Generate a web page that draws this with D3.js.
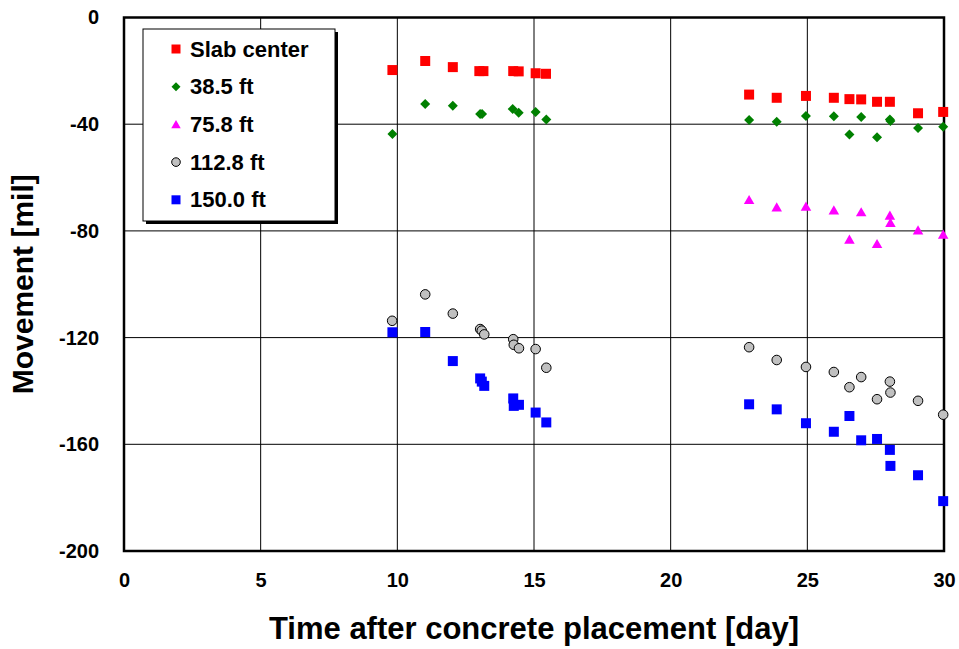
<!DOCTYPE html>
<html>
<head>
<meta charset="utf-8">
<script src="https://cdn.jsdelivr.net/npm/d3@7"></script>
<style>
  body { margin: 0; background: #fff; }
  svg { display: block; font-family: "Liberation Sans", Arial, sans-serif; font-weight: bold; }
</style>
</head>
<body>
<div id="chart"></div>
<script>
const width = 959, height = 649;
const margin = { left: 124, right: 15, top: 17.5, bottom: 98 };

// days for each measurement
const slabX = [9.82, 11.02, 12.03, 13.0, 13.15, 14.24, 14.44, 15.06, 15.44,
  22.87, 23.88, 24.95, 25.97, 26.54, 26.97, 27.55, 28.02, 29.05, 29.97];
const slabY = [-19.7, -16.3, -18.6, -20.1, -20.1, -20.1, -20.2, -20.9, -21.1,
  -28.9, -30.1, -29.4, -30.1, -30.6, -30.7, -31.6, -31.6, -35.9, -35.4];

const ft38X = [9.82, 11.02, 12.03, 13.03, 13.1, 14.22, 14.44, 15.06, 15.45,
  22.87, 23.88, 24.95, 25.97, 26.54, 26.97, 27.55, 28.02, 28.04, 29.05, 29.97];
const ft38Y = [-43.7, -32.4, -33.1, -36.2, -36.2, -34.3, -35.7, -35.4, -38.2,
  -38.4, -39.1, -36.9, -37.0, -43.9, -37.3, -44.9, -38.2, -38.8, -41.4, -41.0];

const ft75X = [22.87, 23.88, 24.95, 25.97, 26.54, 26.97, 27.55, 28.02, 28.04, 29.05, 29.97];
const ft75Y = [-68.4, -71.2, -70.9, -72.3, -83.3, -73.0, -84.9, -74.3, -77.0, -79.8, -81.4];

const ft112X = [9.81, 11.02, 12.03, 13.03, 13.09, 13.18, 14.24, 14.26, 14.45, 15.06, 15.45,
  22.87, 23.88, 24.95, 25.97, 26.54, 26.97, 27.55, 28.02, 28.04, 29.05, 29.97];
const ft112Y = [-113.7, -103.8, -111.0, -116.8, -117.4, -118.8, -120.6, -122.7, -124.0, -124.3, -131.3,
  -123.6, -128.4, -131.0, -132.9, -138.6, -134.8, -143.1, -136.5, -140.6, -143.7, -148.9];

const ft150X = [9.82, 11.02, 12.03, 13.03, 13.09, 13.18, 14.24, 14.26, 14.45, 15.06, 15.45,
  22.87, 23.88, 24.95, 25.97, 26.54, 26.97, 27.55, 28.02, 28.04, 29.05, 29.97];
const ft150Y = [-118.0, -117.9, -128.8, -135.3, -136.5, -138.1, -142.8, -145.6, -145.2, -148.1, -151.8,
  -145.0, -146.9, -152.1, -155.3, -149.4, -158.5, -158.0, -162.1, -168.1, -171.6, -181.3];

const xTicks = [0, 5, 10, 15, 20, 25, 30];
const yTicks = [0, -40, -80, -120, -160, -200];

const series = [
  { name: "Slab center", xs: slabX, ys: slabY, shape: "square", color: "#ff0000" },
  { name: "38.5 ft", xs: ft38X, ys: ft38Y, shape: "diamond", color: "#008000" },
  { name: "75.8 ft", xs: ft75X, ys: ft75Y, shape: "triangle", color: "#ff00ff" },
  { name: "112.8 ft", xs: ft112X, ys: ft112Y, shape: "circle", color: "#c0c0c0" },
  { name: "150.0 ft", xs: ft150X, ys: ft150Y, shape: "square", color: "#0000ff" }
];

const x = d3.scaleLinear().domain([0, 30]).range([margin.left, width - margin.right]);
const y = d3.scaleLinear().domain([-200, 0]).range([height - margin.bottom, margin.top]);

const svg = d3.select("#chart").append("svg")
  .attr("width", width)
  .attr("height", height);

// grid
svg.append("g")
  .selectAll("line")
  .data(xTicks.slice(1, -1))
  .join("line")
  .attr("x1", d => x(d)).attr("x2", d => x(d))
  .attr("y1", y(0)).attr("y2", y(-200))
  .attr("stroke", "#000").attr("stroke-width", 1);

svg.append("g")
  .selectAll("line")
  .data(yTicks.slice(1, -1))
  .join("line")
  .attr("x1", x(0)).attr("x2", x(30))
  .attr("y1", d => y(d)).attr("y2", d => y(d))
  .attr("stroke", "#000").attr("stroke-width", 1);

// axes (labels only, frame drawn separately); plain hyphen for minus like the original
const xAxis = d3.axisBottom(x).tickValues(xTicks).tickSize(0).tickPadding(22).tickFormat(d => String(d));
const yAxis = d3.axisLeft(y).tickValues(yTicks).tickSize(0).tickPadding(25).tickFormat(d => String(d));

svg.append("g")
  .attr("transform", `translate(0,${y(-200)})`)
  .call(xAxis)
  .call(g => g.select(".domain").remove())
  .selectAll("text")
  .style("font-size", "20px").style("font-weight", "bold")
  .attr("font-family", null);

svg.append("g")
  .attr("transform", `translate(${x(0)},0)`)
  .call(yAxis)
  .call(g => g.select(".domain").remove())
  .selectAll("text")
  .style("font-size", "20px").style("font-weight", "bold")
  .attr("font-family", null);

// plot frame
svg.append("rect")
  .attr("x", x(0)).attr("y", y(0))
  .attr("width", x(30) - x(0)).attr("height", y(-200) - y(0))
  .attr("fill", "none").attr("stroke", "#000").attr("stroke-width", 2.5);

function symbolFor(shape, scale) {
  const s = scale || 1;
  if (shape === "square") return d3.symbol(d3.symbolSquare, 100 * s * s);
  if (shape === "diamond") return d3.symbol(d3.symbolSquare, 50 * s * s);
  if (shape === "triangle") return d3.symbol(d3.symbolTriangle, 48 * s * s);
  return d3.symbol(d3.symbolCircle, 72 * s * s);
}

series.forEach(sr => {
  const pts = sr.xs.map((v, i) => ({ x: v, y: sr.ys[i] }));
  const sym = symbolFor(sr.shape);
  svg.append("g")
    .selectAll("path")
    .data(pts)
    .join("path")
    .attr("d", sym)
    .attr("transform", d => `translate(${x(d.x)},${y(d.y)})` + (sr.shape === "diamond" ? " rotate(45)" : "") + (sr.shape === "triangle" ? " translate(0,1)" : ""))
    .attr("fill", sr.color)
    .attr("stroke", sr.shape === "circle" ? "#000" : "none")
    .attr("stroke-width", 1);
});

// legend
const lg = svg.append("g").attr("transform", "translate(143,29)");
lg.append("rect")
  .attr("x", 3).attr("y", 3).attr("width", 192).attr("height", 192)
  .attr("fill", "#000");
lg.append("rect")
  .attr("x", 0).attr("y", 0).attr("width", 192).attr("height", 192)
  .attr("fill", "#fff").attr("stroke", "#000").attr("stroke-width", 1);

const item = lg.selectAll("g.item")
  .data(series)
  .join("g")
  .attr("class", "item")
  .attr("transform", (d, i) => `translate(0,${20 + i * 37.7})`);

item.append("path")
  .attr("d", d => symbolFor(d.shape, 0.9)())
  .attr("transform", d => "translate(33,0)" + (d.shape === "diamond" ? " rotate(45)" : "") + (d.shape === "triangle" ? " translate(0,1)" : ""))
  .attr("fill", d => d.color)
  .attr("stroke", d => d.shape === "circle" ? "#000" : "none");

item.append("text")
  .attr("x", 47).attr("y", 7.5)
  .style("font-size", "22px")
  .text(d => d.name);

// axis titles
svg.append("text")
  .attr("x", (x(0) + x(30)) / 2).attr("y", 639)
  .attr("text-anchor", "middle")
  .style("font-size", "31px")
  .text("Time after concrete placement [day]");

svg.append("text")
  .attr("transform", `translate(33,${(y(0) + y(-200)) / 2}) rotate(-90)`)
  .attr("text-anchor", "middle")
  .style("font-size", "30px")
  .text("Movement [mil]");
</script>
</body>
</html>
